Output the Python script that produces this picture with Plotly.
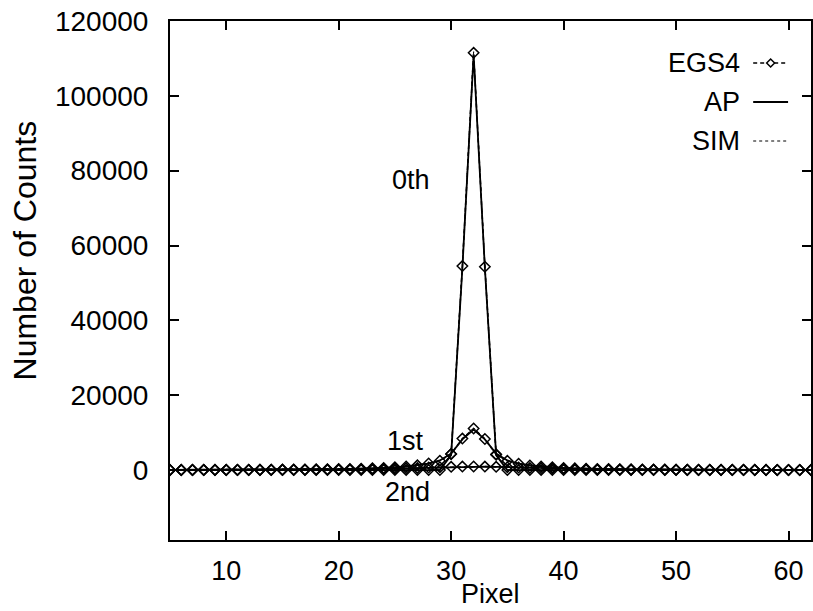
import plotly.graph_objects as go

# Detector pixel index
pixels = list(range(5, 63))

# Zeroth-order (unscattered) counts
egs4_0th = [
    0, 0, 0, 0, 0, 0, 0, 0, 0, 0, 0, 0, 0, 0, 0, 0, 0, 0, 0, 0, 0, 0, 0, 0,
    0, 4300, 54500, 111500, 54300, 4100, 0,
    0, 0, 0, 0, 0, 0, 0, 0, 0, 0, 0, 0, 0, 0, 0, 0, 0, 0, 0, 0, 0, 0, 0, 0, 0, 0, 0,
]
ap_0th = [
    0, 0, 0, 0, 0, 0, 0, 0, 0, 0, 0, 0, 0, 0, 0, 0, 0, 0, 0, 0, 0, 0, 0, 0,
    0, 4000, 54000, 111000, 54000, 4000, 0,
    0, 0, 0, 0, 0, 0, 0, 0, 0, 0, 0, 0, 0, 0, 0, 0, 0, 0, 0, 0, 0, 0, 0, 0, 0, 0, 0,
]
sim_0th = [
    0, 0, 0, 0, 0, 0, 0, 0, 0, 0, 0, 0, 0, 0, 0, 0, 0, 0, 0, 0, 0, 0, 0, 0,
    0, 4500, 54800, 111800, 54800, 4400, 0,
    0, 0, 0, 0, 0, 0, 0, 0, 0, 0, 0, 0, 0, 0, 0, 0, 0, 0, 0, 0, 0, 0, 0, 0, 0, 0, 0,
]

# First-order scatter counts
egs4_1st = [
    35, 38, 42, 46, 52, 58, 65, 75, 85, 95, 110, 130, 150, 180, 210, 250, 300, 360,
    450, 560, 720, 950, 1250, 1750, 2500, 4300, 8400, 11100, 8300, 4200, 2450, 1700,
    1220, 930, 710, 550, 440, 355, 295, 245, 205, 175, 148, 128, 108, 94, 84, 74,
    64, 57, 51, 46, 42, 38, 35, 32, 30, 28,
]
ap_1st = [
    33, 36, 40, 45, 50, 56, 63, 72, 82, 93, 108, 126, 148, 176, 208, 246, 295, 355,
    440, 550, 710, 940, 1230, 1720, 2550, 4400, 8200, 10800, 8200, 4400, 2550, 1720,
    1230, 940, 710, 550, 440, 355, 295, 246, 208, 176, 148, 126, 108, 93, 82, 72,
    63, 56, 50, 45, 40, 36, 33, 31, 29, 27,
]
sim_1st = [
    36, 39, 43, 48, 53, 60, 67, 77, 87, 98, 113, 133, 154, 184, 215, 255, 305, 365,
    455, 570, 730, 960, 1270, 1780, 2520, 4350, 8450, 11200, 8400, 4250, 2480, 1720,
    1240, 945, 720, 560, 448, 362, 300, 250, 210, 178, 150, 130, 110, 96, 85, 75,
    65, 58, 52, 47, 43, 39, 36, 33, 31, 29,
]

# Second-order scatter counts
egs4_2nd = [
    16, 18, 20, 22, 25, 28, 32, 37, 43, 50, 58, 68, 80, 95, 115, 140, 170, 210,
    260, 320, 390, 470, 560, 660, 760, 850, 920, 950, 915, 845, 755, 655,
    555, 465, 385, 318, 258, 208, 168, 138, 113, 94, 79, 67, 57, 49, 42, 36,
    31, 27, 24, 21, 19, 17, 15, 14, 13, 12,
]
ap_2nd = [
    15, 17, 19, 21, 24, 27, 31, 36, 42, 49, 57, 67, 79, 94, 113, 138, 168, 208,
    258, 318, 388, 468, 558, 655, 755, 845, 910, 940, 910, 845, 755, 655,
    558, 468, 388, 318, 258, 208, 168, 138, 113, 94, 79, 67, 57, 49, 42, 36,
    31, 27, 24, 21, 19, 17, 15, 14, 13, 12,
]
sim_2nd = [
    17, 19, 21, 23, 26, 29, 33, 38, 44, 51, 59, 70, 82, 97, 117, 142, 172, 212,
    262, 322, 393, 473, 563, 665, 765, 855, 925, 955, 920, 850, 760, 660,
    560, 470, 390, 320, 260, 210, 170, 140, 115, 96, 80, 68, 58, 50, 43, 37,
    32, 28, 25, 22, 20, 18, 16, 15, 14, 13,
]

order_labels = ["0th", "1st", "2nd"]
order_label_x = [26.4, 25.9, 26.1]
order_label_y = [77500, 7800, -5800]

legend_names = ["EGS4", "AP", "SIM"]

x_ticks = [10, 20, 30, 40, 50, 60]
x_tick_text = ["10", "20", "30", "40", "50", "60"]
y_ticks = [0, 20000, 40000, 60000, 80000, 100000, 120000]
y_tick_text = ["0", "20000", "40000", "60000", "80000", "100000", "120000"]

FONT = "Liberation Sans, Arial, Helvetica, sans-serif"
TXT = 27
INK = "black"

fig = go.Figure()

orders = [
    (egs4_0th, ap_0th, sim_0th),
    (egs4_1st, ap_1st, sim_1st),
    (egs4_2nd, ap_2nd, sim_2nd),
]

for egs4, ap, sim in orders:
    fig.add_trace(go.Scatter(
        x=pixels, y=sim, mode="lines", name="SIM", showlegend=False,
        line=dict(color=INK, width=1, dash="dot"),
    ))
    fig.add_trace(go.Scatter(
        x=pixels, y=ap, mode="lines", name="AP", showlegend=False,
        line=dict(color=INK, width=1.8),
    ))
    fig.add_trace(go.Scatter(
        x=pixels, y=egs4, mode="lines+markers", name="EGS4", showlegend=False,
        line=dict(color=INK, width=1.5, dash="4px,3px"),
        marker=dict(symbol="diamond-open", size=8, color=INK,
                    line=dict(color=INK, width=1.5)),
    ))

annotations = []
for text, lx, ly in zip(order_labels, order_label_x, order_label_y):
    annotations.append(dict(
        x=lx, y=ly, xref="x", yref="y", text=text, showarrow=False,
        font=dict(family=FONT, size=TXT, color=INK),
        xanchor="center", yanchor="middle",
    ))

# Key in the top-right corner: label on the left, line sample on the right
plot_left, plot_right, plot_top, plot_bottom = 170, 813, 21, 540
pw = plot_right - plot_left
ph = plot_bottom - plot_top


def px_to_paper(px, py):
    return (px - plot_left) / pw, (plot_bottom - py) / ph


key_rows = [63, 102, 141]
key_text_right = 744
key_line = (755, 790)
key_styles = [
    dict(color=INK, width=1.5, dash="4px,3px"),
    dict(color=INK, width=1.8),
    dict(color=INK, width=1, dash="dot"),
]
shapes = []
for name, row, style in zip(legend_names, key_rows, key_styles):
    tx, ty = px_to_paper(key_text_right, row)
    annotations.append(dict(
        x=tx, y=ty, xref="paper", yref="paper", text=name, showarrow=False,
        font=dict(family=FONT, size=TXT, color=INK),
        xanchor="right", yanchor="middle",
    ))
    x0, y0 = px_to_paper(key_line[0], row)
    x1, _ = px_to_paper(key_line[1], row)
    shapes.append(dict(type="line", xref="paper", yref="paper",
                       x0=x0, x1=x1, y0=y0, y1=y0, line=style))

# Diamond on the EGS4 key sample
cx, cy = px_to_paper((key_line[0] + key_line[1]) / 2, key_rows[0])
dx, dy = 4 / pw, 4 / ph
shapes.append(dict(
    type="path", xref="paper", yref="paper",
    path=f"M {cx - dx},{cy} L {cx},{cy + dy} L {cx + dx},{cy} L {cx},{cy - dy} Z",
    line=dict(color=INK, width=1.5), fillcolor="white",
))

# Axis titles
tx, ty = px_to_paper(491, 594)
annotations.append(dict(
    x=tx, y=ty, xref="paper", yref="paper", text="Pixel", showarrow=False,
    font=dict(family=FONT, size=TXT, color=INK),
    xanchor="center", yanchor="middle",
))
tx, ty = px_to_paper(25, 250)
annotations.append(dict(
    x=tx, y=ty, xref="paper", yref="paper", text="Number of Counts",
    showarrow=False, textangle=-90,
    font=dict(family=FONT, size=32, color=INK),
    xanchor="center", yanchor="middle",
))

axis_common = dict(
    ticks="inside", ticklen=9, tickwidth=2, tickcolor=INK,
    showline=True, linecolor=INK, linewidth=2, mirror="allticks",
    showgrid=False, zeroline=False,
)

fig.update_layout(
    width=813, height=611,
    margin=dict(l=plot_left, r=813 - plot_right, t=plot_top, b=611 - plot_bottom),
    paper_bgcolor="white", plot_bgcolor="white",
    font=dict(family=FONT, size=TXT, color=INK),
    showlegend=False,
    annotations=annotations,
    shapes=shapes,
    xaxis=dict(range=[5, 62], tickvals=x_ticks, ticktext=x_tick_text,
               ticklabelstandoff=6,
               tickfont=dict(family=FONT, size=TXT, color=INK), **axis_common),
    yaxis=dict(range=[-18700, 120000], tickvals=y_ticks, ticktext=y_tick_text,
               ticklabelstandoff=14,
               tickfont=dict(family=FONT, size=28, color=INK), **axis_common),
)

fig.write_html("out.html")
